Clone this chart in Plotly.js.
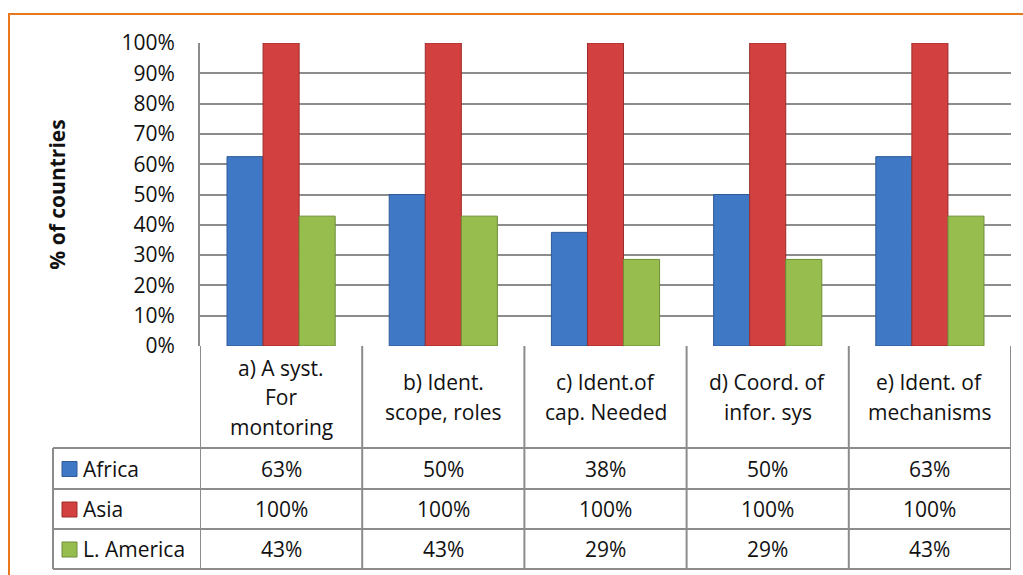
<!DOCTYPE html>
<html>
<head>
<meta charset="utf-8">
<script src="https://cdn.plot.ly/plotly-3.0.1.min.js"></script>
<style>html,body{margin:0;padding:0;background:#fff;}#chart{width:1023px;height:575px;}</style>
</head>
<body>
<div id="chart"></div>
<script>
// ---- data ----
var categories = ["a) A syst.<br>For<br>montoring", "b) Ident.<br>scope, roles", "c) Ident.of<br>cap. Needed", "d) Coord. of<br>infor. sys", "e) Ident. of<br>mechanisms"];
var seriesNames = ["Africa", "Asia", "L. America"];
var africa = [0.625, 0.5, 0.375, 0.5, 0.625];
var asia = [1.0, 1.0, 1.0, 1.0, 1.0];
var lamerica = [0.4286, 0.4286, 0.2857, 0.2857, 0.4286];
var yTickVals = [0, 0.1, 0.2, 0.3, 0.4, 0.5, 0.6, 0.7, 0.8, 0.9, 1.0];
var yTickText = ["0%", "10%", "20%", "30%", "40%", "50%", "60%", "70%", "80%", "90%", "100%"];

var seriesValues = [africa, asia, lamerica];
var colors = ["#3F78C5", "#D2403F", "#96BD4D"];
var edgeColors = ["#2E5A96", "#9C2C2B", "#6F8E36"];

// ---- layout geometry (pixels) ----
var W = 1023, H = 575;
var mL = 200, mR = 12, mT = 43, mB = 229;
var plotW = W - mL - mR, plotH = H - mT - mB;
function xp(px) { return (px - mL) / plotW; }
function yp(py) { return (H - mB - py) / plotH; }

var FONT = "'Open Sans', sans-serif";
var FS = 21;
var TXT = "#111111";
var gridCol = "#8C8C8C";

var traces = seriesNames.map(function (name, i) {
  return {
    type: "bar",
    name: name,
    x: categories,
    y: seriesValues[i],
    marker: { color: colors[i], line: { color: edgeColors[i], width: 1 } },
    hoverinfo: "x+y+name"
  };
});

// table geometry
var axisBottom = H - mB;          // 346
var headerBottom = 448;
var rowBottoms = [489, 529, 569];
var legendLeft = 53;
var nCat = categories.length;

var shapes = [];
var annotations = [];

// orange outer border
shapes.push({ type: "rect", xref: "paper", yref: "paper",
  x0: xp(9), x1: xp(1040), y0: yp(14), y1: yp(600),
  line: { color: "#E8771E", width: 2 }, fillcolor: "rgba(0,0,0,0)", layer: "below" });

// horizontal table lines
var lineStyle = { color: gridCol, width: 2 };
shapes.push({ type: "line", xref: "paper", yref: "paper", x0: xp(legendLeft), x1: 1, y0: yp(headerBottom), y1: yp(headerBottom), line: lineStyle });
rowBottoms.forEach(function (rb) {
  shapes.push({ type: "line", xref: "paper", yref: "paper", x0: xp(legendLeft), x1: 1, y0: yp(rb), y1: yp(rb), line: lineStyle });
});
// vertical lines at category boundaries
for (var k = 0; k <= nCat; k++) {
  shapes.push({ type: "line", xref: "x", yref: "paper", x0: k - 0.5, x1: k - 0.5,
    y0: 0, y1: yp(rowBottoms[2]), line: lineStyle });
}
// left legend column border
shapes.push({ type: "line", xref: "paper", yref: "paper", x0: xp(legendLeft), x1: xp(legendLeft),
  y0: yp(headerBottom), y1: yp(rowBottoms[2]), line: lineStyle });

// header labels (one annotation per line for Excel-like spacing)
var headerMid = (axisBottom + headerBottom) / 2;
var lineGap = 29.5;
categories.forEach(function (c, i) {
  var parts = c.split("<br>");
  parts.forEach(function (p, j) {
    var py = headerMid + (j - (parts.length - 1) / 2) * lineGap;
    annotations.push({ xref: "x", yref: "paper", x: i, y: yp(py), text: p, showarrow: false,
      xanchor: "center", yanchor: "middle", font: { family: FONT, size: FS, color: TXT } });
  });
});

// data rows
var rowTops = [headerBottom].concat(rowBottoms.slice(0, 2));
seriesNames.forEach(function (name, r) {
  var mid = (rowTops[r] + rowBottoms[r]) / 2;
  shapes.push({ type: "rect", xref: "paper", yref: "paper",
    x0: xp(62), x1: xp(77), y0: yp(mid - 7), y1: yp(mid + 8),
    fillcolor: colors[r], line: { color: edgeColors[r], width: 1 } });
  annotations.push({ xref: "paper", yref: "paper", x: xp(81), y: yp(mid), text: name, showarrow: false,
    xanchor: "left", yanchor: "middle", font: { family: FONT, size: FS, color: TXT } });
  seriesValues[r].forEach(function (v, i) {
    annotations.push({ xref: "x", yref: "paper", x: i, y: yp(mid), text: Math.round(v * 100) + "%",
      showarrow: false, xanchor: "center", yanchor: "middle", font: { family: FONT, size: FS, color: TXT } });
  });
});

var layout = {
  width: W, height: H,
  margin: { l: mL, r: mR, t: mT, b: mB, pad: 0 },
  paper_bgcolor: "#ffffff",
  plot_bgcolor: "#ffffff",
  showlegend: false,
  barmode: "group",
  bargap: 0.333,
  bargroupgap: 0,
  xaxis: {
    type: "category",
    showticklabels: false,
    showgrid: false,
    zeroline: false,
    showline: false,
    ticks: "",
    range: [-0.5, nCat - 0.5],
    fixedrange: true
  },
  yaxis: {
    range: [0, 1],
    tickvals: yTickVals,
    ticktext: yTickText,
    showgrid: true,
    gridcolor: gridCol,
    gridwidth: 2,
    zeroline: false,
    showline: true,
    linecolor: gridCol,
    linewidth: 2,
    ticks: "",
    ticklabelstandoff: 19,
    tickfont: { family: FONT, size: FS, color: TXT },
    title: { text: "% of countries", standoff: 50, font: { family: FONT, size: FS, color: TXT, weight: "bold" } },
    automargin: false,
    fixedrange: true
  },
  shapes: shapes,
  annotations: annotations
};

Plotly.newPlot("chart", traces, layout, { displayModeBar: false, staticPlot: true });
</script>
</body>
</html>
